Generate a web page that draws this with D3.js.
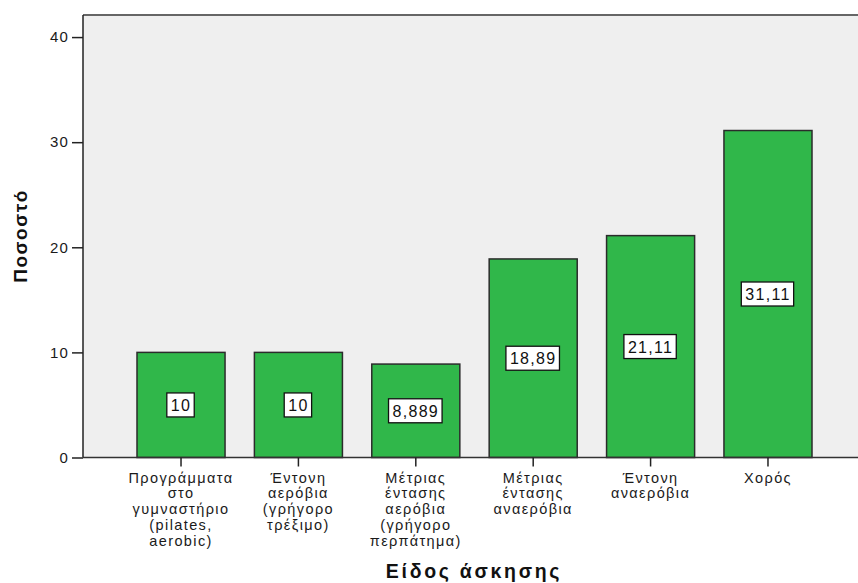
<!DOCTYPE html>
<html><head><meta charset="utf-8">
<script src="https://cdn.jsdelivr.net/npm/d3@7"></script>
<style>
html,body{margin:0;padding:0;background:#fff;}
svg{display:block;}
text{font-family:"Liberation Sans",Arial,sans-serif;}
</style></head>
<body>
<script>
const categories = [
  ["Προγράμματα","στο","γυμναστήριο","(pilates,","aerobic)"],
  ["Έντονη","αερόβια","(γρήγορο","τρέξιμο)"],
  ["Μέτριας","έντασης","αερόβια","(γρήγορο","περπάτημα)"],
  ["Μέτριας","έντασης","αναερόβια"],
  ["Έντονη","αναερόβια"],
  ["Χορός"]
];
const values = [10, 10, 8.889, 18.89, 21.11, 31.11];
const valueLabels = ["10", "10", "8,889", "18,89", "21,11", "31,11"];
const yTicks = [0, 10, 20, 30, 40];
const yTitle = "Ποσοστό";
const xTitle = "Είδος άσκησης";

const W = 858, H = 583;
const mL = 83, mR = 866, mT = 15, mB = 457.5;

const svg = d3.select("body").append("svg").attr("width", W).attr("height", H);

const idx = values.map((d,i)=>i);
const x = d3.scaleBand().domain(idx).range([mL, mR]).paddingInner(0.25).paddingOuter(0.46);
const y = d3.scaleLinear().domain([0, 42.1]).range([mB, mT]);

// plot background
svg.append("rect").attr("x", mL).attr("y", mT).attr("width", mR-mL).attr("height", mB-mT)
  .attr("fill", "#efefef");
// top frame line
svg.append("line").attr("x1", mL).attr("x2", mR).attr("y1", mT).attr("y2", mT)
  .attr("stroke", "#666").attr("stroke-width", 2);

// bars
svg.append("g").selectAll("rect").data(values).join("rect")
  .attr("x", (d,i)=>x(i)).attr("y", d=>y(d))
  .attr("width", x.bandwidth()).attr("height", d=>y(0)-y(d))
  .attr("fill", "#30b74a").attr("stroke", "#2b2b2b").attr("stroke-width", 1.5);

// y axis
const yAxis = d3.axisLeft(y).tickValues(yTicks).tickSize(11).tickPadding(3).tickFormat(d3.format("d"));
const gy = svg.append("g").attr("transform", `translate(${mL},0)`).call(yAxis);
gy.select(".domain").attr("stroke", "#222").attr("stroke-width", 1.5).attr("d", `M0,${mT}V${mB}`);
gy.selectAll(".tick line").attr("stroke", "#222").attr("stroke-width", 1.5);
gy.selectAll(".tick text").attr("font-size", 15).attr("fill", "#1a1a1a").attr("letter-spacing", 1.2)
  .attr("font-family", "Liberation Sans, Arial, sans-serif");

// x axis
const xAxis = d3.axisBottom(x).tickSize(9).tickFormat("");
const gx = svg.append("g").attr("transform", `translate(0,${mB})`).call(xAxis);
gx.select(".domain").attr("stroke", "#333").attr("stroke-width", 1.5).attr("d", `M${mL},0H${mR}`);
gx.selectAll(".tick line").attr("stroke", "#222").attr("stroke-width", 1.5);

// category labels
const lh = 15.8;
const catG = svg.append("g");
categories.forEach((lines, i) => {
  const t = catG.append("text").attr("text-anchor", "middle").attr("font-size", 14.5)
    .attr("fill", "#1a1a1a").attr("letter-spacing", 1.4);
  lines.forEach((ln, j) => {
    t.append("tspan").attr("x", x(i) + x.bandwidth()/2).attr("y", 482.5 + j*lh).text(ln);
  });
});

// value labels with boxes
const lab = svg.append("g");
values.forEach((v, i) => {
  const cx = x(i) + x.bandwidth()/2;
  const cy = (y(0) + y(v))/2;
  const g = lab.append("g");
  const r = g.append("rect");
  const t = g.append("text").attr("x", cx).attr("y", cy + 6).attr("text-anchor", "middle")
    .attr("font-size", 16).attr("fill", "#111").attr("letter-spacing", 1.3).text(valueLabels[i]);
  const bb = t.node().getBBox();
  r.attr("x", cx - bb.width/2 - 4).attr("y", cy - 12).attr("width", bb.width + 7).attr("height", 24)
    .attr("fill", "#fff").attr("stroke", "#111").attr("stroke-width", 1.3);
});

// titles
svg.append("text").attr("transform", "translate(27,236) rotate(-90)").attr("text-anchor", "middle")
  .attr("font-size", 19).attr("font-weight", "bold").attr("fill", "#111").attr("letter-spacing", 1.5).text(yTitle);
svg.append("text").attr("x", 474).attr("y", 578).attr("text-anchor", "middle")
  .attr("font-size", 19.5).attr("font-weight", "bold").attr("fill", "#111").attr("letter-spacing", 2.7).text(xTitle);
</script>
</body></html>
